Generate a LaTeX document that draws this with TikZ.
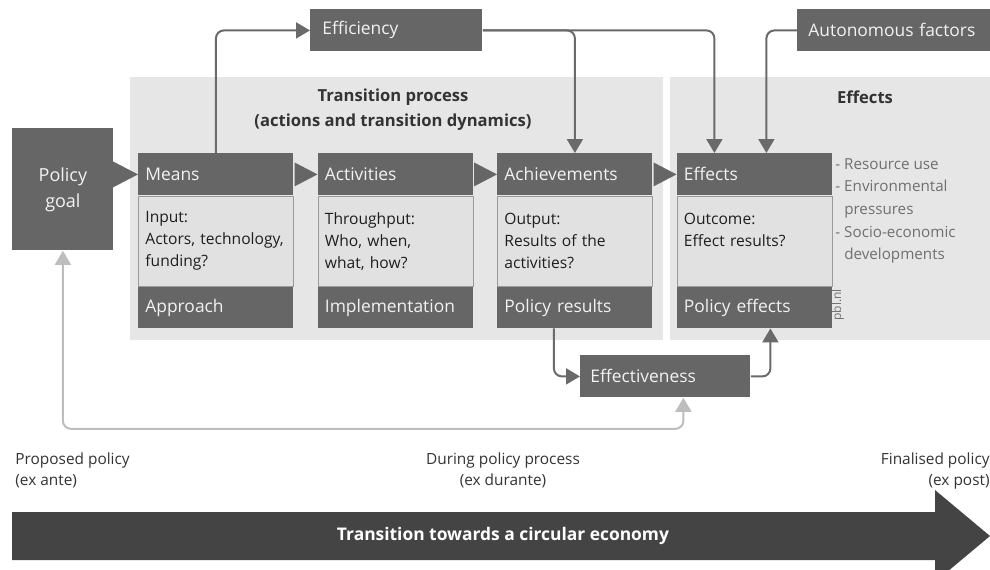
\documentclass[tikz,border=0pt]{standalone}
\usepackage{fontspec}
\setmainfont{Open Sans}
\usepackage{tikz}
\usetikzlibrary{
    arrows.meta,
    calc,
    positioning,
}
\definecolor{boxgray}{HTML}{666666}
\definecolor{headtext}{HTML}{F2F2F2}
\definecolor{bodygray}{HTML}{E1E1E1}
\definecolor{bodyline}{HTML}{9A9A9A}
\definecolor{bodytext}{HTML}{1E1E1E}
\definecolor{panelgray}{HTML}{E6E6E6}
\definecolor{linkgray}{HTML}{6A6A6A}
\definecolor{feedgray}{HTML}{BDBDBD}
\definecolor{listgray}{HTML}{707070}
\definecolor{titlegray}{HTML}{333333}
\definecolor{bandgray}{HTML}{444444}

\begin{document}
\begin{tikzpicture}[x=0.5pt,y=-0.5pt,>={Triangle[length=7pt,width=8pt]}]

                \tikzstyle{darkBox}=[fill=boxgray, text=headtext, anchor=north west, inner xsep=3.5pt, inner ysep=0pt, align=left, font=\fontsize{8.7}{11}\selectfont]
                \tikzstyle{head}=[darkBox, text width=70.5pt, minimum height=21pt]
                \tikzstyle{foot}=[head, minimum height=20.5pt]
                \tikzstyle{body}=[fill=bodygray, draw=bodyline, line width=0.4pt, text=bodytext, text width=70.5pt, minimum height=45pt, inner xsep=3.5pt, inner ysep=0pt, align=left, font=\fontsize{7.8}{11}\selectfont]
                \tikzstyle{panel}=[fill=panelgray]
                \tikzstyle{title}=[text=titlegray, align=center, font=\fontsize{8.3}{12.5}\selectfont\bfseries]
                \tikzstyle{note}=[text=titlegray, inner sep=0pt, font=\fontsize{7.7}{10.5}\selectfont]
                \tikzstyle{link}=[draw=linkgray, line width=1pt, rounded corners=4pt, ->]
                \tikzstyle{feedback}=[draw=feedgray, line width=1pt, rounded corners=4pt, <->]

                \useasboundingbox (0,0) rectangle (990,569);

                \begin{scope}

                    \def \hspacing {179.5}
                    \def \row {153}

                    % Panels
                    \fill[panel] (130,77) rectangle (663,340);
                    \fill[panel] (670,77) rectangle (990,340);
                    \node at (393,110) [title] (TP) {Transition process \\ (actions and transition dynamics)};
                    \node at (865,97) [title] (EP) {Effects};

                    % Top row of factors
                    \node at (310,9) [darkBox, text width=74pt, minimum height=21pt, inner xsep=6pt] (EF) {Efficiency};
                    \node at (797,9) [darkBox, text width=90pt, minimum height=21pt, inner xsep=5.5pt] (AF) {Autonomous factors};

                    % Policy goal
                    \node at (12,128) [darkBox, align=center, text width=50.5pt, inner xsep=0pt, minimum height=61pt, font=\fontsize{9}{13}\selectfont] (PG) {Policy \\ goal};

                    % Chain of boxes
                    \node at (138+0*\hspacing, \row) [head] (M) {Means};
                    \node [body, below=0pt of M] (MB) {Input: \\ Actors, technology, \\ funding?};
                    \node [foot, below=0pt of MB] (MF) {Approach};

                    \node at (138+1*\hspacing, \row) [head] (A) {Activities};
                    \node [body, below=0pt of A] (AB) {Throughput: \\ Who, when, \\ what, how?};
                    \node [foot, below=0pt of AB] (AF2) {Implementation};

                    \node at (138+2*\hspacing, \row) [head] (R) {Achievements};
                    \node [body, below=0pt of R] (RB) {Output: \\ Results of the \\ activities?};
                    \node [foot, below=0pt of RB] (RF) {Policy results};

                    \node at (138+3*\hspacing, \row) [head] (E) {Effects};
                    \node [body, below=0pt of E] (EB) {Outcome: \\ Effect results? \\ \mbox{}};
                    \node [foot, below=0pt of EB] (EF2) {Policy effects};

                    \node at (835,158) [anchor=north west, inner sep=0pt, text=listgray, align=left, font=\fontsize{7.6}{11.3}\selectfont] (L) {- Resource use \\ - Environmental \\ \hphantom{- }pressures \\ - Socio-economic \\ \hphantom{- }developments};
                    \node at (838,305) [rotate=90, inner sep=0pt, text=listgray, font=\fontsize{6}{7}\selectfont] (P) {pbl.nl};

                    \node at (580,355) [darkBox, text width=75pt, minimum height=21pt, inner xsep=5pt] (EV) {Effectiveness};

                    % Pointed tips between the boxes
                    \fill[boxgray] ($(M.west)+(-25,-13)$) -- (M.west) -- ($(M.west)+(-25,13)$) -- cycle;
                    \foreach \a/\b in {M/A, A/R, R/E}
                        \fill[boxgray] ($(\b.west)+(-23,-12)$) -- (\b.west) -- ($(\b.west)+(-23,12)$) -- cycle;

                    % Connectors
                    \draw[link] (M.north) |- (EF.west);
                    \draw[link] (EF.east) -| (R.north);
                    \draw[link] (EF.east) -| ([xshift=-20pt]E.north);
                    \draw[link] (AF.west) -| ([xshift=6pt]E.north);
                    \draw[link] ([xshift=-10.5pt]RF.south) |- (EV.west);
                    \draw[link] (EV.east) -| ([xshift=8pt]EF2.south);
                    \draw[feedback] (PG.south) -- ++(0,178) -| ([xshift=9pt]EV.south);

                    % Time line
                    \node at (15,452) [note, anchor=north west, align=left] (T1) {Proposed policy \\ (ex ante)};
                    \node at (503,452) [note, anchor=north, align=center] (T2) {During policy process \\ (ex durante)};
                    \node at (990,452) [note, anchor=north east, align=right] (T3) {Finalised policy \\ (ex post)};
                    \fill[bandgray] (12,512) -- (935,512) -- (935,490) -- (990,536) -- (935,582) -- (935,560) -- (12,560) -- cycle;
                    \node at (503,536) [text=white, font=\fontsize{8.7}{11}\selectfont\bfseries] (TR) {Transition towards a circular economy};
                \end{scope}
            \end{tikzpicture}
\end{document}
